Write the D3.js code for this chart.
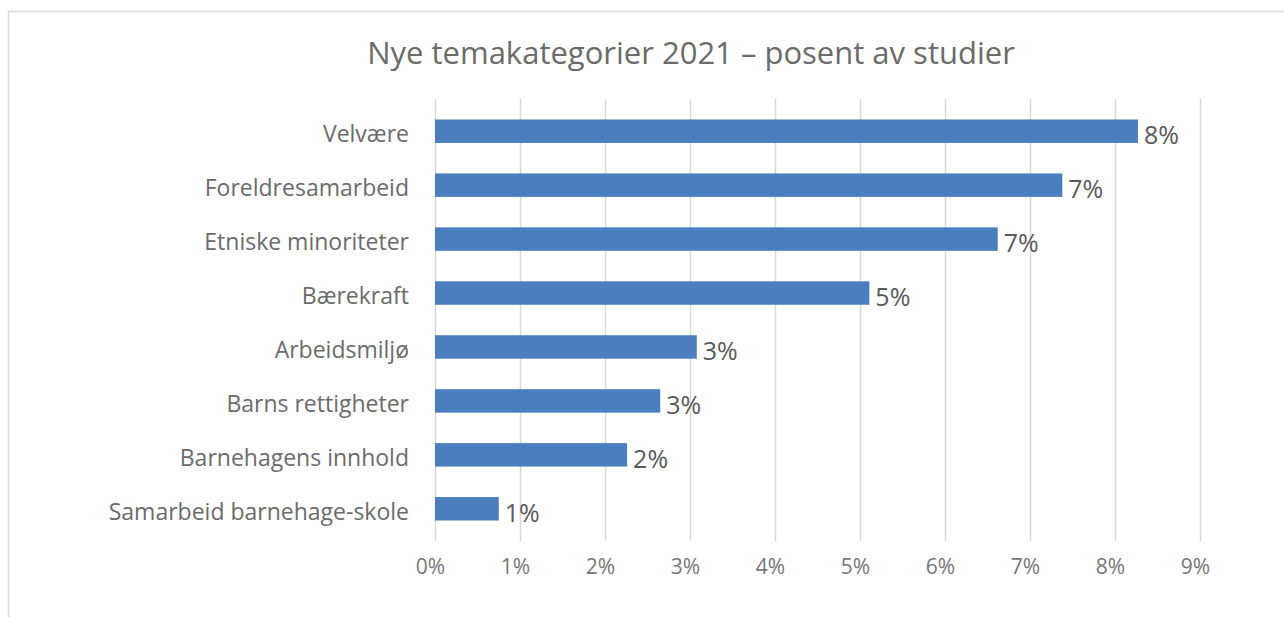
<!DOCTYPE html>
<html>
<head>
<meta charset="utf-8">
<script src="https://cdn.jsdelivr.net/npm/d3@7"></script>
<style>
  body { margin: 0; background: #fff; }
  svg { display: block; font-family: "Open Sans", sans-serif; }
</style>
</head>
<body>
<svg id="chart" width="1284" height="617"></svg>
<script>
(function(d3){

    // data (percent of studies)
    var categories = ["Velvære", "Foreldresamarbeid", "Etniske minoriteter", "Bærekraft",
                      "Arbeidsmiljø", "Barns rettigheter", "Barnehagens innhold", "Samarbeid barnehage-skole"];
    var values = [8.27, 7.38, 6.62, 5.11, 3.08, 2.65, 2.26, 0.75];
    var ticks = [0, 1, 2, 3, 4, 5, 6, 7, 8, 9];
    var title = "Nye temakategorier 2021 – posent av studier";

    var svg = d3.select("#chart");
    var pct = function(v){ return d3.format(".0%")(v / 100); };

    //ramme rundt diagrammet
    svg.append("rect")
        .attr("x", 8.5).attr("y", 11.5)
        .attr("width", 1300).attr("height", 700)
        .attr("fill", "none")
        .attr("stroke", "#d9d9d9")
        .attr("stroke-width", 1.5);

    var x = d3.scaleLinear().domain([0, 9]).range([435, 1200]);
    var y = d3.scaleBand().domain(categories).range([99, 541])
        .paddingInner(0.565).paddingOuter(0.38);

    //tittel
    svg.append("text")
        .attr("x", 691).attr("y", 64)
        .attr("text-anchor", "middle")
        .attr("fill", "#6b6b6b")
        .style("font-size", "31px")
        .text(title);

    //rutenett + akse
    var xAxis = d3.axisBottom(x).tickValues(ticks).tickSize(541 - 99)
        .tickFormat(function(d){ return d + "%"; });

    var gx = svg.append("g")
        .attr("transform", "translate(0,99)")
        .call(xAxis)
        .attr("font-family", null);
    gx.select(".domain").remove();
    gx.selectAll(".tick line").attr("stroke", "#d9d9d9").attr("stroke-width", 1.5);
    gx.selectAll(".tick text")
        .attr("y", 574 - 99)
        .attr("dy", 0)
        .attr("dx", -5)
        .attr("fill", "#767676")
        .style("font-size", "21px");

    //kategorier
    var yAxis = d3.axisLeft(y).tickSize(0).tickPadding(0);
    var gy = svg.append("g")
        .attr("transform", "translate(409,0)")
        .call(yAxis)
        .attr("font-family", null);
    gy.select(".domain").remove();
    gy.selectAll(".tick text")
        .attr("dy", 0)
        .attr("y", 11)
        .attr("fill", "#6b6b6b")
        .style("font-size", "23px");

    //søyler
    svg.append("g").selectAll("rect")
        .data(values)
        .enter().append("rect")
        .attr("x", x(0))
        .attr("y", function(d, i){ return y(categories[i]); })
        .attr("width", function(d){ return x(d) - x(0); })
        .attr("height", y.bandwidth())
        .attr("fill", "#4a7ebf");

    //dataetiketter
    svg.append("g").selectAll("text")
        .data(values)
        .enter().append("text")
        .attr("x", function(d){ return x(d) + 6; })
        .attr("y", function(d, i){ return y(categories[i]) + y.bandwidth() / 2 + 13; })
        .attr("fill", "#595959")
        .style("font-size", "25px")
        .text(function(d){ return pct(d); });

})(d3);
</script>
</body>
</html>
